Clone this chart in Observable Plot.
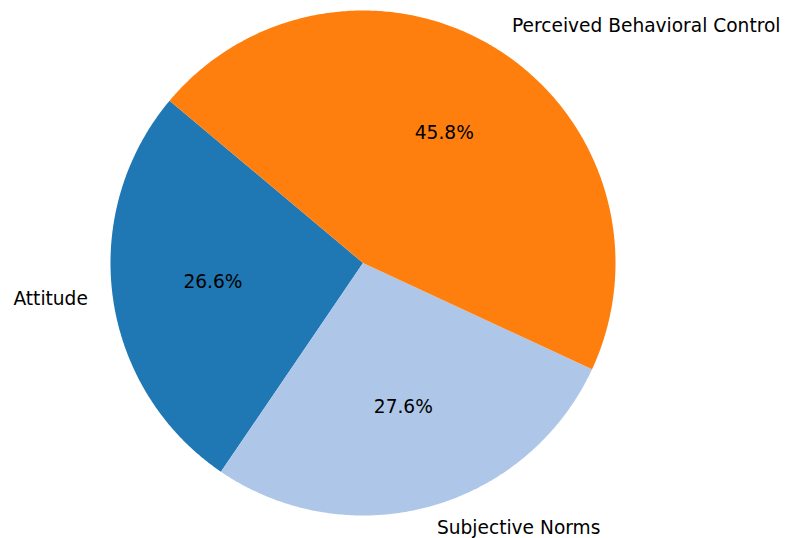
<!DOCTYPE html>
<html>
<head>
<meta charset="utf-8">
<script src="https://cdn.jsdelivr.net/npm/d3@7"></script>
<script src="https://cdn.jsdelivr.net/npm/@observablehq/plot@0.6"></script>
<style>
  html, body { margin: 0; padding: 0; background: #fff; }
  #chart svg { display: block; }
</style>
</head>
<body>
<div id="chart"></div>
<script>
const labels = ["Attitude", "Subjective Norms", "Perceived Behavioral Control"];
const values = [26.6, 27.6, 45.8];
const colors = ["#1f77b4", "#aec7e8", "#ff7f0e"];
const startAngle = 140; // degrees, counter-clockwise like matplotlib

const total = d3.sum(values);
let acc = startAngle;
const slices = values.map((v, i) => {
  const a0 = acc;
  const a1 = acc + (v / total) * 360;
  acc = a1;
  return { label: labels[i], value: v, a0, a1, mid: (a0 + a1) / 2 };
});

const rad = (d) => (d * Math.PI) / 180;

// polygon points for each slice (center + arc)
const polyPts = [];
for (const s of slices) {
  polyPts.push({ label: s.label, x: 0, y: 0 });
  const n = Math.ceil((s.a1 - s.a0) * 2);
  for (let k = 0; k <= n; k++) {
    const a = rad(s.a0 + ((s.a1 - s.a0) * k) / n);
    polyPts.push({ label: s.label, x: Math.cos(a), y: Math.sin(a) });
  }
}

const outerLabels = slices.map((s) => ({
  text: s.label,
  x: 1.1 * Math.cos(rad(s.mid)),
  y: 1.1 * Math.sin(rad(s.mid)),
}));
const pctLabels = slices.map((s) => ({
  text: s.value.toFixed(1) + "%",
  x: 0.6 * Math.cos(rad(s.mid)),
  y: 0.6 * Math.sin(rad(s.mid)),
}));

const font = "DejaVu Sans, sans-serif";
const fs = 18.6;
const chart = Plot.plot({
  width: 786,
  height: 538,
  margin: 0,
  style: { background: "#fff", fontFamily: font },
  x: { domain: [-1, 1], range: [110, 615], axis: null },
  y: { domain: [-1, 1], range: [515, 10], axis: null },
  color: { domain: labels, range: colors },
  marks: [
    Plot.line(polyPts, { x: "x", y: "y", z: "label", fill: "label", stroke: "none", curve: "linear" }),
    Plot.text(outerLabels.filter((d) => d.x >= 0), { x: "x", y: "y", text: "text", textAnchor: "start", fontSize: fs, dy: -2.5, fill: "#000", fontFamily: font }),
    Plot.text(outerLabels.filter((d) => d.x < 0), { x: "x", y: "y", text: "text", textAnchor: "end", fontSize: fs, dy: -2.5, fill: "#000", fontFamily: font }),
    Plot.text(pctLabels, { x: "x", y: "y", text: "text", fontSize: fs, dy: -2, fill: "#000", fontFamily: font })
  ]
});
document.getElementById("chart").appendChild(chart);
</script>
</body>
</html>
